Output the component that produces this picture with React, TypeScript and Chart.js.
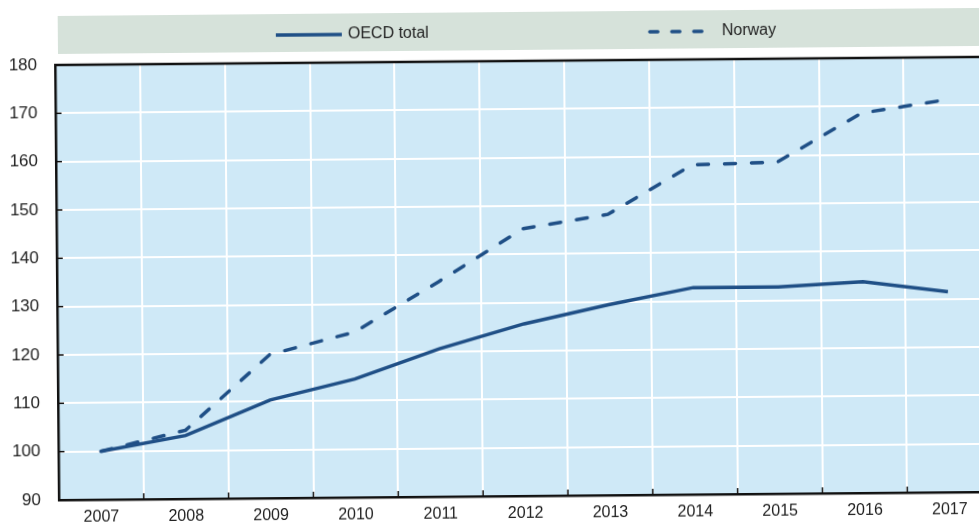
import React, { useEffect, useRef } from "react";
import { Chart, registerables } from "chart.js";
Chart.register(...registerables);

const years = ["2007", "2008", "2009", "2010", "2011", "2012", "2013", "2014", "2015", "2016", "2017"];
const oecdTotal = [100, 103.1, 110.3, 114.5, 120.6, 125.6, 129.4, 132.8, 132.8, 133.7, 131.5];
const norway = [100, 104.2, 119.7, 124.2, 134.5, 145.3, 148.1, 158.2, 158.6, 168.6, 171.2];
const yMin = 90;
const yMax = 180;
const yStep = 10;
const seriesLabels = ["OECD total", "Norway"];

const LINE = "#1f4f86";
const PLOT_BG = "#cfe9f7";
const BAND = "#d6e2da";
const FONT = "'Liberation Sans', Arial, sans-serif";
const DASH = [11, 16];

const decorPlugin = {
  id: "decor",
  beforeDraw(chart: any) {
    const { ctx, chartArea } = chart;
    ctx.save();
    ctx.fillStyle = PLOT_BG;
    ctx.fillRect(chartArea.left, chartArea.top, chartArea.right - chartArea.left, chartArea.bottom - chartArea.top);
    // legend band
    ctx.fillStyle = BAND;
    ctx.fillRect(60, 16, chart.width - 60, 38);
    const items = [
      { x: 278, dash: [] as number[] },
      { x: 652, dash: [8, 14] },
    ];
    chart.data.datasets.forEach((ds: any, i: number) => {
      const it = items[i];
      const y = 37;
      ctx.strokeStyle = LINE;
      ctx.lineWidth = 3.5;
      ctx.lineCap = i === 0 ? "butt" : "round";
      ctx.setLineDash(it.dash);
      ctx.beginPath();
      ctx.moveTo(it.x, y);
      ctx.lineTo(it.x + 66, y);
      ctx.stroke();
      ctx.setLineDash([]);
      ctx.fillStyle = "#222";
      ctx.font = `16px ${FONT}`;
      ctx.textBaseline = "middle";
      ctx.textAlign = "left";
      ctx.fillText(ds.label, it.x + 72, y);
    });
    ctx.restore();
  },
  afterDraw(chart: any) {
    const { ctx, chartArea, scales } = chart;
    ctx.save();
    ctx.strokeStyle = "#111";
    ctx.lineWidth = 2.5;
    ctx.beginPath();
    ctx.moveTo(chartArea.left - 1, chartArea.top);
    ctx.lineTo(chartArea.right, chartArea.top);
    ctx.stroke();
    // inward y ticks
    ctx.lineWidth = 1.5;
    const ys = scales.y;
    ys.ticks.forEach((t: any) => {
      if (t.value === yMin || t.value === yMax) return;
      const py = ys.getPixelForValue(t.value);
      ctx.beginPath();
      ctx.moveTo(chartArea.left, py);
      ctx.lineTo(chartArea.left + 6, py);
      ctx.stroke();
    });
    // inward x ticks at category boundaries
    const n = years.length;
    const w = (chartArea.right - chartArea.left) / n;
    for (let i = 1; i < n; i++) {
      const px = chartArea.left + i * w;
      ctx.beginPath();
      ctx.moveTo(px, chartArea.bottom);
      ctx.lineTo(px, chartArea.bottom - 6);
      ctx.stroke();
    }
    ctx.restore();
  },
};

export default function App() {
  const ref = useRef<HTMLCanvasElement>(null);
  useEffect(() => {
    document.documentElement.style.overflow = "hidden";
    document.body.style.margin = "0";
    const chart = new Chart(ref.current!, {
      type: "line",
      data: {
        labels: years,
        datasets: [
          {
            label: seriesLabels[0],
            data: oecdTotal,
            borderColor: LINE,
            borderWidth: 3.5,
            pointRadius: 0,
            tension: 0,
            fill: false,
          },
          {
            label: seriesLabels[1],
            data: norway,
            borderColor: LINE,
            borderWidth: 3.5,
            borderDash: DASH,
            borderCapStyle: "round",
            pointRadius: 0,
            tension: 0,
            fill: false,
          },
        ],
      },
      options: {
        animation: false,
        responsive: true,
        maintainAspectRatio: false,
        layout: { padding: { top: 65, left: 0, right: 0, bottom: 6 } },
        plugins: { legend: { display: false }, tooltip: { enabled: false } },
        scales: {
          x: {
            type: "category",
            offset: true,
            afterFit: (s: any) => { s.height = 24; },
            grid: { offset: true, color: "#ffffff", lineWidth: 2, drawTicks: false },
            border: { display: true, color: "#111", width: 2.5 },
            ticks: { color: "#222", font: { family: FONT, size: 16 }, padding: 8, maxRotation: 0, autoSkip: false },
          },
          y: {
            min: yMin,
            max: yMax,
            afterFit: (s: any) => { s.width = 57; },
            grid: { color: "#ffffff", lineWidth: 2, drawTicks: false },
            border: { display: true, color: "#111", width: 2.5 },
            ticks: { stepSize: yStep, color: "#222", font: { family: FONT, size: 17 }, padding: 18 },
          },
        },
      },
      plugins: [decorPlugin],
    });
    return () => chart.destroy();
  }, []);
  return (
    <div style={{ position: "absolute", left: 0, top: 0, width: 979, height: 524, overflow: "hidden", background: "#fff" }}>
      <div
        style={{
          position: "relative",
          width: 992,
          height: 530,
          transform: "rotate(-0.5deg)",
          transformOrigin: "57px 283px",
        }}
      >
        <canvas ref={ref} />
      </div>
    </div>
  );
}
